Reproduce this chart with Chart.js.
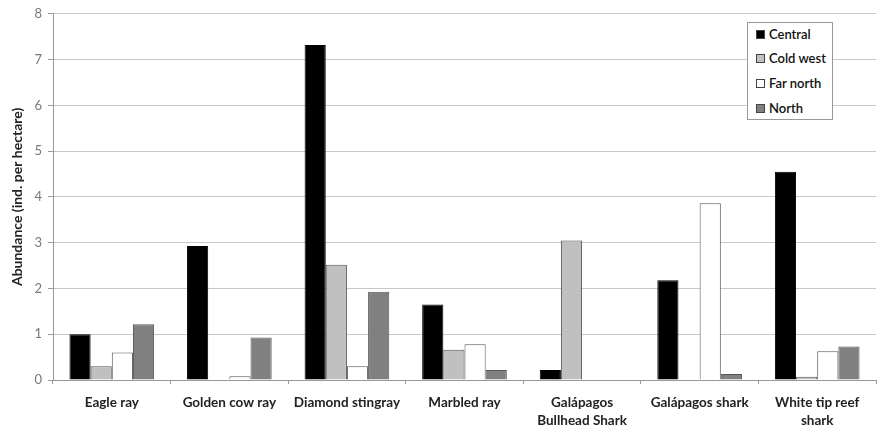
<!DOCTYPE html>
<html>
<head>
<meta charset="utf-8">
<script src="https://cdn.jsdelivr.net/npm/chart.js@4/dist/chart.umd.min.js"></script>
<style>
  body { margin: 0; background: #fff; }
  #wrap { position: relative; width: 877px; height: 427px; }
  #legend {
    position: absolute; left: 747px; top: 22px; width: 84px; height: 96px;
    border: 1px solid #999; background: #fff;
    font-family: Lato, "Open Sans", sans-serif; font-size: 13px; font-weight: 600; color: #111;
  }
  #legend div { position: absolute; left: 8px; height: 15px; line-height: 15px; white-space: nowrap; }
  #legend span.sw { display: inline-block; width: 7px; height: 7px; border: 1px solid #444; margin-right: 4px; vertical-align: 0px; }
</style>
</head>
<body>
<div id="wrap">
  <canvas id="c" width="877" height="427"></canvas>
  <div id="legend"></div>
</div>
<script>
// categories and values
const species = ['Eagle ray', 'Golden cow ray', 'Diamond stingray', 'Marbled ray',
  ['Galápagos', 'Bullhead Shark'], 'Galápagos shark', ['White tip reef', 'shark']];
const regions = ['Central', 'Cold west', 'Far north', 'North'];
const central  = [1.00, 2.93, 7.32, 1.65, 0.22, 2.18, 4.55];
const coldWest = [0.30, 0.00, 2.52, 0.66, 3.05, 0.00, 0.07];
const farNorth = [0.60, 0.08, 0.30, 0.78, 0.00, 3.86, 0.63];
const north    = [1.22, 0.93, 1.93, 0.22, 0.00, 0.13, 0.73];
const yTicks = [0, 1, 2, 3, 4, 5, 6, 7, 8];

const fills = ['#000000', '#c0c0c0', '#ffffff', '#808080'];
const series = [central, coldWest, farNorth, north];

const datasets = regions.map((r, i) => ({
  label: r, data: series[i],
  backgroundColor: fills[i], borderColor: i === 0 ? '#000' : '#555',
  borderWidth: 1, barPercentage: 1.0, categoryPercentage: 0.72
}));

// legend box inside the plot, like the original
const legendEl = document.getElementById('legend');
const legendTops = [4, 28, 53, 78];
regions.forEach((r, i) => {
  const d = document.createElement('div');
  d.style.top = legendTops[i] + 'px';
  d.innerHTML = '<span class="sw" style="background:' + fills[i] + '"></span>' + r;
  legendEl.appendChild(d);
});

const font = 'Lato, "Open Sans", sans-serif';
const ctx = document.getElementById('c').getContext('2d');
new Chart(ctx, {
  type: 'bar',
  data: { labels: species, datasets: datasets },
  options: {
    responsive: false, animation: false,
    layout: { padding: { top: 5, right: 1, left: 9, bottom: 0 } },
    plugins: { legend: { display: false }, tooltip: { enabled: false } },
    scales: {
      x: {
        offset: true,
        grid: { offset: true, drawOnChartArea: false, drawTicks: true, tickLength: 4, color: '#999' },
        border: { color: '#999' },
        ticks: { color: '#222', padding: 10, maxRotation: 0, autoSkip: false,
          font: { family: font, size: 13.5, weight: 'bold', lineHeight: 1.3 } },
        afterFit: s => { s.height = 47; }
      },
      y: {
        min: 0, max: 8,
        afterBuildTicks: s => { s.ticks = yTicks.map(v => ({ value: v })); },
        grid: { color: '#c8c8c8', tickLength: 5, tickColor: '#999' },
        border: { color: '#999' },
        ticks: { color: '#777', padding: 6,
          font: { family: font, size: 13 } },
        title: { display: true, text: 'Abundance (ind. per hectare)', color: '#222', padding: 0,
          font: { family: font, size: 14, weight: 'bold' } },
        afterFit: s => { s.width = 44; }
      }
    }
  }
});
</script>
</body>
</html>
